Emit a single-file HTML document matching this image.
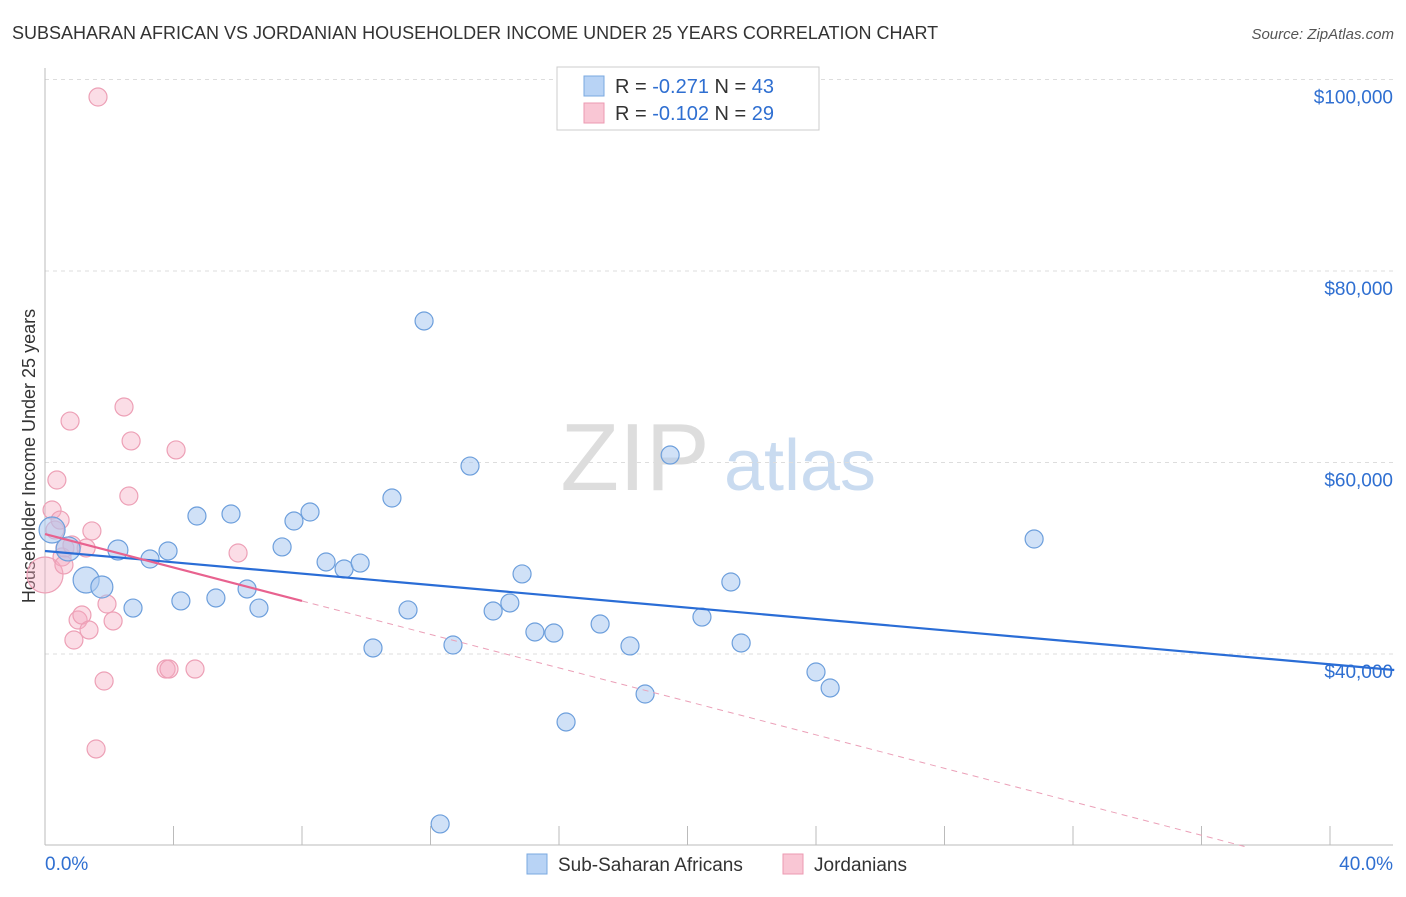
<!DOCTYPE html>
<html><head><meta charset="utf-8"><style>
body{margin:0;background:#fff;font-family:"Liberation Sans",sans-serif;}
svg text{font-family:"Liberation Sans",sans-serif;}
</style></head><body>
<svg id="chart" width="1406" height="892" xmlns="http://www.w3.org/2000/svg">
<text x="12" y="39" font-size="18" fill="#333">SUBSAHARAN AFRICAN VS JORDANIAN HOUSEHOLDER INCOME UNDER 25 YEARS CORRELATION CHART</text>
<text x="1394" y="39" font-size="15" fill="#555" font-style="italic" text-anchor="end">Source: ZipAtlas.com</text>
<text x="35" y="456" font-size="18" fill="#333" text-anchor="middle" transform="rotate(-90 35 456)">Householder Income Under 25 years</text>
<g><text x="635" y="490" font-size="96" fill="#ddd" font-family="Liberation Serif" text-anchor="middle">ZIP</text><text x="800" y="490" font-size="72" fill="#c9dbf0" text-anchor="middle">atlas</text></g>
<g id="grid"></g><g id="marks"></g>
<g>
<rect x="557" y="67" width="262" height="63" fill="#fff" stroke="#ccc"/>
<rect x="584" y="76" width="20" height="20" fill="#b8d3f5" stroke="#7aa8e0"/>
<rect x="584" y="103" width="20" height="20" fill="#f9c6d4" stroke="#ec9ab2"/>
<text x="615" y="93" font-size="20" fill="#333">R = <tspan fill="#2f6fd1">-0.271</tspan>   N = <tspan fill="#2f6fd1">43</tspan></text>
<text x="615" y="120" font-size="20" fill="#333">R = <tspan fill="#2f6fd1">-0.102</tspan>   N = <tspan fill="#2f6fd1">29</tspan></text>
</g>
<g>
<rect x="527" y="854" width="20" height="20" fill="#b8d3f5" stroke="#7aa8e0"/>
<text x="558" y="871" font-size="19" fill="#333">Sub-Saharan Africans</text>
<rect x="783" y="854" width="20" height="20" fill="#f9c6d4" stroke="#ec9ab2"/>
<text x="814" y="871" font-size="19" fill="#333">Jordanians</text>
</g>
</svg>
<script>
const yTicks=[40000,60000,80000,100000];
const yTickLabels=["$40,000","$60,000","$80,000","$100,000"];
const xTickVals=[0,4,8,12,16,20,24,28,32,36,40];
const blueX=[0.22,0.72,1.28,1.77,2.27,2.74,3.27,3.83,4.23,4.73,5.32,5.79,6.29,6.66,7.38,7.75,8.25,8.75,9.31,9.81,10.21,10.8,11.3,11.8,12.3,12.7,13.23,13.95,14.47,14.85,15.25,15.84,16.22,17.28,18.21,18.68,19.46,20.45,21.35,21.67,24.0,24.44,30.79];
const blueY=[52950,50970,47730,47000,50860,44800,49920,50760,45540,54410,45850,54620,46790,44800,51180,53890,54830,49610,48880,49500,40630,56290,44600,74780,22250,40940,59630,44490,45330,48360,42300,42190,32900,43130,40840,35820,60780,43860,47520,41150,38120,36450,52010];
const blueR=[13,12,13,11,10,9,9,9,9,9,9,9,9,9,9,9,9,9,9,9,9,9,9,9,9,9,9,9,9,9,9,9,9,9,9,9,9,9,9,9,9,9,9];
const pinkX=[1.65,0,0.22,0.31,0.37,0.53,0.62,0.78,0.9,1.03,1.15,1.37,1.46,1.59,1.84,1.93,2.12,2.46,2.61,2.68,3.77,3.86,4.08,4.67,6.01,0.59,0.84,1.28,0.47];
const pinkY=[98170,48250,55040,52950,58170,50130,51070,64330,41460,43550,44070,42510,52850,30080,37180,45220,43450,65800,56500,62250,38430,38430,61310,38430,50550,49300,51380,51070,53990];
const pinkR=[9,18,9,9,9,9,9,9,9,9,9,9,9,9,9,9,9,9,9,9,9,9,9,9,9,9,9,9,9];
const blueTrend=[[0,50760],[42,38330]];
const pinkTrend=[[0,52530],[8,45540]];
const pinkDash=[[8,45540],[37.35,19890]];
const X=v=>45+v*32.125, Y=v=>654-(v-40000)*191.5/20000;
const NS="http://www.w3.org/2000/svg";
const grid=document.getElementById('grid'), marks=document.getElementById('marks');
function mk(p,tag,a){const e=document.createElementNS(NS,tag);for(const k in a)e.setAttribute(k,a[k]);p.appendChild(e);return e;}
yTicks.forEach((t,i)=>{
 const l=mk(grid,'line',{x1:45,x2:1393,y1:Y(t),y2:Y(t),stroke:'#ddd','stroke-dasharray':'4,4'});
 
 
 const tx=mk(grid,'text',{x:1393,y:Y(t)+24,'font-size':19,fill:'#2f6fd1','text-anchor':'end'});
 tx.textContent=yTickLabels[i];
 
 
});
const g1=mk(grid,'line',{x1:45,x2:1393,y1:Y(100000),y2:Y(100000),stroke:'#ddd','stroke-dasharray':'4,4'});
mk(grid,'line',{x1:45,x2:45,y1:68,y2:845,stroke:'#bbb'});
mk(grid,'line',{x1:45,x2:1393,y1:845,y2:845,stroke:'#bbb'});
xTickVals.forEach(v=>{
 const l=mk(grid,'line',{x1:X(v),x2:X(v),y1:826,y2:845,stroke:'#bbb'});
 
 
});
const xl0=mk(grid,'text',{x:45,y:870,'font-size':19,fill:'#2f6fd1'});xl0.textContent=xTickVals[0].toFixed(1)+'%';

const xl1=mk(grid,'text',{x:1393,y:870,'font-size':19,fill:'#2f6fd1','text-anchor':'end'});xl1.textContent=xTickVals[xTickVals.length-1].toFixed(1)+'%';

pinkX.forEach((x,i)=>{
 const c=mk(marks,'circle',{cx:X(x),cy:Y(pinkY[i]),r:pinkR[i],fill:'rgba(246,170,192,0.4)',stroke:'#eda0b6','stroke-width':1.2});
 
 
});
blueX.forEach((x,i)=>{
 const c=mk(marks,'circle',{cx:X(x),cy:Y(blueY[i]),r:blueR[i],fill:'rgba(170,200,240,0.55)',stroke:'#6d9fdc','stroke-width':1.2});
 
 
});
const bt=mk(marks,'line',{x1:X(blueTrend[0][0]),y1:Y(blueTrend[0][1]),x2:X(blueTrend[1][0]),y2:Y(blueTrend[1][1]),stroke:'#2a6dd6','stroke-width':2.2});


const pt=mk(marks,'line',{x1:X(pinkTrend[0][0]),y1:Y(pinkTrend[0][1]),x2:X(pinkTrend[1][0]),y2:Y(pinkTrend[1][1]),stroke:'#e8628f','stroke-width':2.2});


const pd=mk(marks,'line',{x1:X(pinkDash[0][0]),y1:Y(pinkDash[0][1]),x2:X(pinkDash[1][0]),y2:Y(pinkDash[1][1]),stroke:'#eba0b8','stroke-width':1,'stroke-dasharray':'6,5'});


</script>
</body></html>
